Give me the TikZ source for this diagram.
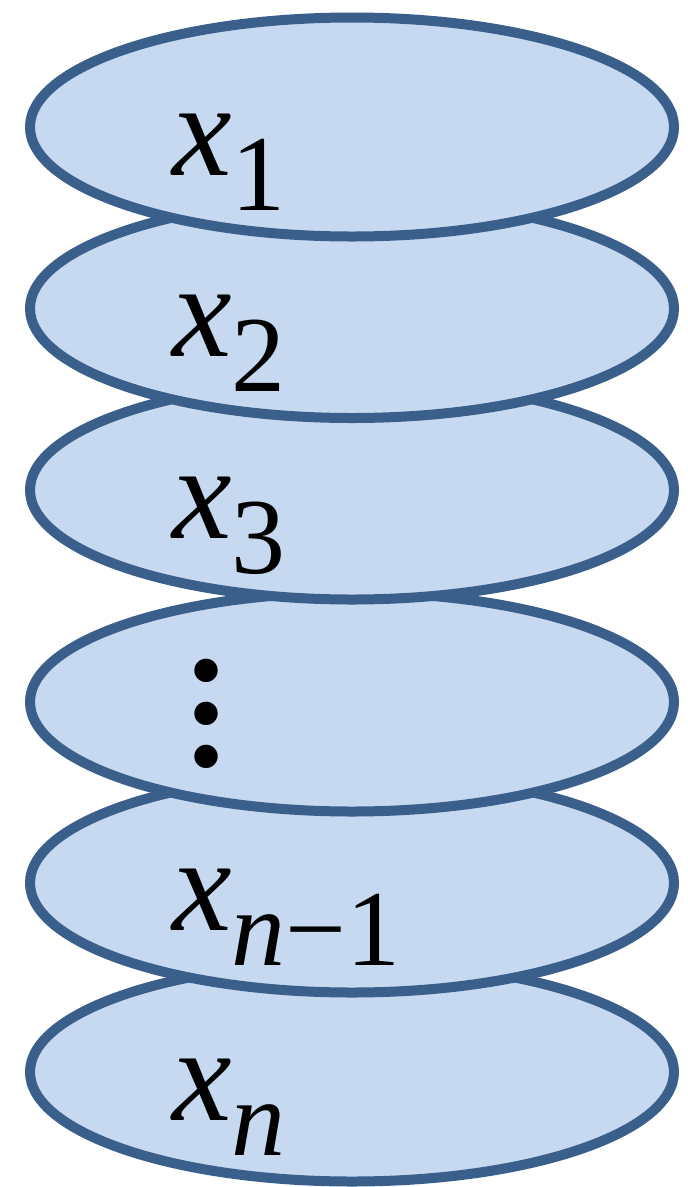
\documentclass[tikz,border=0pt]{standalone}
\usepackage{fontspec}
\setmainfont{Liberation Serif}
\usetikzlibrary{shapes.geometric}

\definecolor{diskfill}{RGB}{198,217,240}
\definecolor{diskline}{RGB}{58,95,139}

\tikzset{
    disk/.style={ellipse, draw=diskline, fill=diskfill, line width=10pt,
        minimum width=644pt, minimum height=219pt, inner sep=0pt},
    varlabel/.style={anchor=base west, inner sep=0pt}
}
\newcommand{\bigx}[1]{\fontsize{134}{134}\selectfont\textit{x}%
    \raisebox{-35pt}{\fontsize{108}{108}\selectfont #1}}

\begin{document}
\begin{tikzpicture}[x=1pt,y=-1pt]
    \useasboundingbox (0,0) rectangle (688,1187);
    % Layers, bottom one first so the upper ones overlap it
    \node[disk] (d6) at (352,1072) {};
    \node[disk] (d5) at (352,883) {};
    \node[disk] (d4) at (352,702) {};
    \node[disk] (d3) at (352,490) {};
    \node[disk] (d2) at (352,308.5) {};
    \node[disk] (d1) at (352,127) {};
    % Labels
    \node[varlabel] (x1) at (172,175) {\bigx{1}};
    \node[varlabel] (x2) at (172,356) {\bigx{2}};
    \node[varlabel] (x3) at (172,538) {\bigx{3}};
    \node[inner sep=0pt, align=center, font=\fontsize{144}{43}\selectfont\bfseries]
        (dots) at (206,714) {.\\.\\.};
    \node[varlabel] (xm) at (172,930) {\bigx{\textit{n}−1}};
    \node[varlabel] (xn) at (172,1120) {\bigx{\textit{n}}};
\end{tikzpicture}
\end{document}
